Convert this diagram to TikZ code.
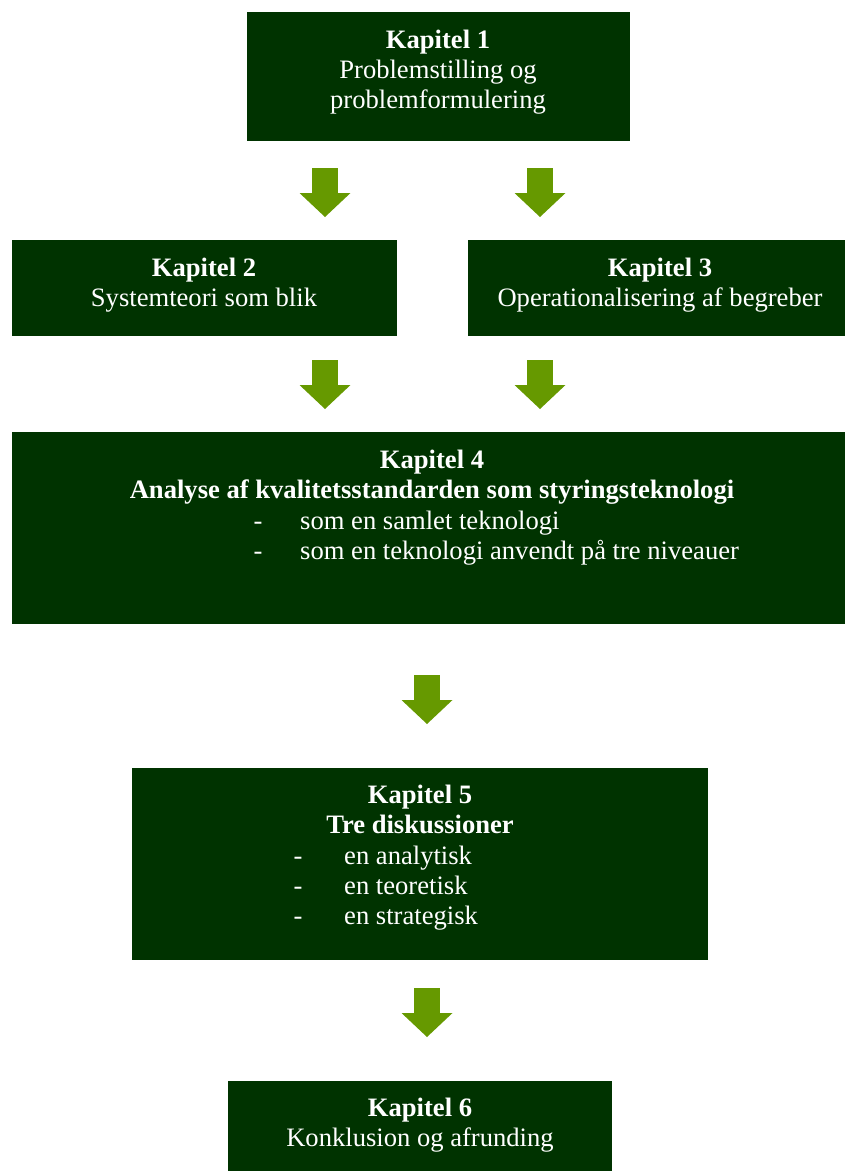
\documentclass[tikz,border=0pt]{standalone}
\usepackage{fontspec}
\setmainfont{Liberation Serif}
\usepackage{tikz}
\usetikzlibrary{arrows.meta,positioning}
\definecolor{kapgreen}{RGB}{0,51,0}
\definecolor{pilgreen}{RGB}{102,153,0}
\tikzstyle{chapter} = [rectangle, fill=kapgreen, inner sep=0pt]
\tikzstyle{chaptext} = [text=white, inner sep=0pt, anchor=base, font=\fontsize{26.6}{30}\selectfont]
\tikzstyle{itemtext} = [chaptext, anchor=base west]
\tikzstyle{bigarrow} = [line width=26pt, color=pilgreen, -{Triangle[width=51pt,length=24pt,line width=0pt]}]

\begin{document}
\begin{tikzpicture}[x=1pt, y=-1pt]
\useasboundingbox (0,0) rectangle (845,1171);

% Chapter boxes
\node[chapter, minimum width=383pt, minimum height=129pt] (kap1) at (438.5,76.5) {};
\node[chapter, minimum width=385pt, minimum height=96pt] (kap2) at (204.5,288) {};
\node[chapter, minimum width=377pt, minimum height=96pt] (kap3) at (656.5,288) {};
\node[chapter, minimum width=833pt, minimum height=192pt] (kap4) at (428.5,528) {};
\node[chapter, minimum width=576pt, minimum height=192pt] (kap5) at (420,864) {};
\node[chapter, minimum width=384pt, minimum height=90pt] (kap6) at (420,1126) {};

% Texts
\node[chaptext] (t1a) at (438,48) {\textbf{Kapitel 1}};
\node[chaptext] (t1b) at (438,78) {Problemstilling og};
\node[chaptext] (t1c) at (438,108) {problemformulering};

\node[chaptext] (t2a) at (204,276) {\textbf{Kapitel 2}};
\node[chaptext] (t2b) at (204,306) {Systemteori som blik};

\node[chaptext] (t3a) at (660,276) {\textbf{Kapitel 3}};
\node[chaptext] (t3b) at (660,306) {Operationalisering af begreber};

\node[chaptext] (t4a) at (432,468) {\textbf{Kapitel 4}};
\node[chaptext] (t4b) at (432,498) {\textbf{Analyse af kvalitetsstandarden som styringsteknologi}};
\node[chaptext] (d4a) at (258,529) {-};
\node[itemtext] (t4c) at (300,529) {som en samlet teknologi};
\node[chaptext] (d4b) at (258,559) {-};
\node[itemtext] (t4d) at (300,559) {som en teknologi anvendt på tre niveauer};

\node[chaptext] (t5a) at (420,803) {\textbf{Kapitel 5}};
\node[chaptext] (t5b) at (420,833) {\textbf{Tre diskussioner}};
\node[chaptext] (d5a) at (298,864) {-};
\node[itemtext] (t5c) at (344,864) {en analytisk};
\node[chaptext] (d5b) at (298,894) {-};
\node[itemtext] (t5d) at (344,894) {en teoretisk};
\node[chaptext] (d5c) at (298,924) {-};
\node[itemtext] (t5e) at (344,924) {en strategisk};

\node[chaptext] (t6a) at (420,1116) {\textbf{Kapitel 6}};
\node[chaptext] (t6b) at (420,1146) {Konklusion og afrunding};

% Arrows
\coordinate (p1) at (325,168);
\coordinate (p2) at (540,168);
\coordinate (p3) at (325,360);
\coordinate (p4) at (540,360);
\coordinate (p5) at (427,675);
\coordinate (p6) at (427,988);
\foreach \p in {p1,p2,p3,p4,p5,p6}
  \draw[bigarrow] (\p) -- ++(0,49);
\end{tikzpicture}
\end{document}
